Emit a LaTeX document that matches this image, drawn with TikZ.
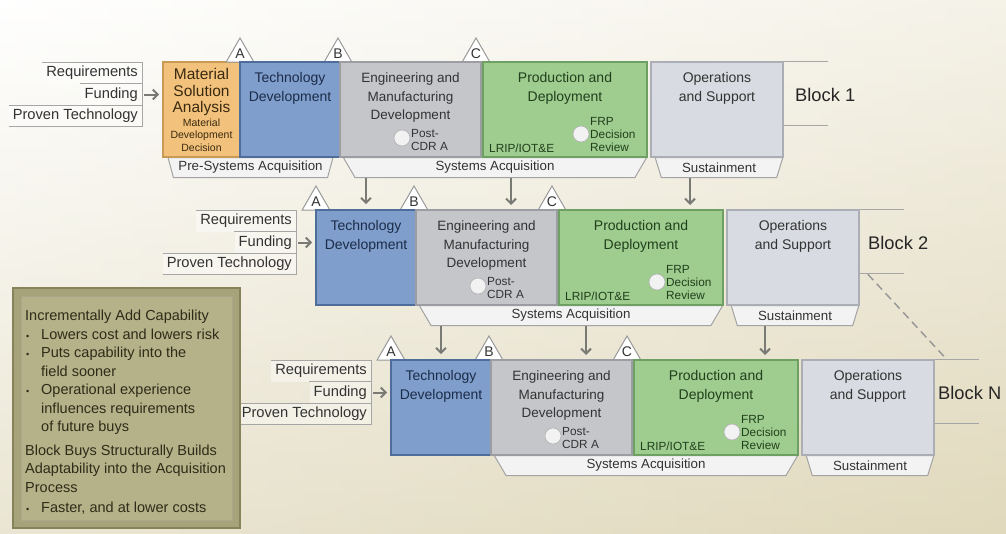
\documentclass[tikz,border=0pt]{standalone}
\usepackage{fontspec}
\setmainfont{Liberation Sans}
\usepackage{tikz}
\usetikzlibrary{shapes.geometric}
\usetikzlibrary{arrows.meta}
\usetikzlibrary{calc}

\definecolor{msafill}{HTML}{F2C27C}
\definecolor{msaline}{HTML}{C99A55}
\definecolor{msatext}{HTML}{3A2A10}
\definecolor{tdfill}{HTML}{7F9ECC}
\definecolor{tdline}{HTML}{4F6D9A}
\definecolor{tdtext}{HTML}{1C2C48}
\definecolor{emdfill}{HTML}{C5C6CA}
\definecolor{emdline}{HTML}{9C9DA2}
\definecolor{pdfill}{HTML}{9ECD8F}
\definecolor{pdline}{HTML}{6FA063}
\definecolor{pdtext}{HTML}{223F1C}
\definecolor{osfill}{HTML}{D8DBE1}
\definecolor{osline}{HTML}{ABAEB4}
\definecolor{tabfill}{HTML}{F3F3F3}
\definecolor{tabline}{HTML}{A3A3A3}
\definecolor{notefill}{HTML}{B5B189}
\definecolor{noteband}{HTML}{A6A27A}
\definecolor{noteline}{HTML}{86825A}
\definecolor{notetext}{HTML}{2F2B18}
\definecolor{flowcol}{HTML}{7A7A74}
\definecolor{txtcol}{HTML}{333333}
\definecolor{bgright}{HTML}{E6DFC6}
\definecolor{bgbottom}{HTML}{DDD5B6}

\newcommand{\notebul}{\makebox[16pt][l]{\hspace{1pt}{\small\textbullet}}}
\newcommand{\noteind}{\hspace*{16pt}}

\tikzset{
  phase/.style={line width=1.6pt, inner sep=0pt, minimum height=95pt},
  ttl/.style={anchor=north, align=center, yshift=-8pt, text=txtcol,
    font=\fontsize{14}{19}\selectfont},
  mstone/.style={regular polygon, regular polygon sides=3, minimum size=32pt,
    inner sep=0pt, draw=black!40, fill=white, line width=1pt, text=txtcol,
    font=\fontsize{14}{16}\selectfont},
  tab/.style={trapezium, trapezium angle=68, shape border rotate=180,
    trapezium stretches=true, minimum height=20pt, inner sep=0pt,
    draw=tabline, fill=tabfill, line width=1pt, text=txtcol,
    font=\fontsize{13.3}{15}\selectfont},
  reviewdot/.style={circle, minimum size=16pt, inner sep=0pt, fill=white!95!black,
    draw=black!30, line width=0.6pt},
  smalltxt/.style={align=left, inner sep=0pt, text=txtcol,
    font=\fontsize{11.8}{13}\selectfont},
  inlbl/.style={anchor=east, minimum height=21.5pt, inner xsep=4pt,
    inner ysep=0pt, fill=white, fill opacity=0.4, text opacity=1,
    text=txtcol, font=\fontsize{14.7}{17}\selectfont},
  lblline/.style={draw=black!35, line width=1pt},
  blkline/.style={draw=black!35, line width=1pt},
  blk/.style={text=black!85, font=\fontsize{18.3}{20}\selectfont},
  flow/.style={draw=flowcol, line width=2pt, -{Straight Barb[length=5pt,width=10pt]}},
  notetxt/.style={align=left, text=notetext, inner sep=0pt,
    font=\fontsize{14.5}{18.5}\selectfont}
}

\begin{document}
\begin{tikzpicture}[x=1pt, y=-1pt]
  \useasboundingbox (0,0) rectangle (1006,533);
  \shade[left color=white, right color=bgright] (0,0) rectangle (1006,533);
  \shade[top color=white, bottom color=bgbottom, opacity=0.6] (0,0) rectangle (1006,533);

  % block 1 only
  \node[tab, minimum width=165pt] (ps1) at (250.5,167.5) {Pre-Systems Acquisition};
  \node[phase, fill=msafill, draw=msaline, minimum width=77pt,
    label={[ttl, yshift=4pt, text=msatext, font=\fontsize{15.5}{16.5}\selectfont]north:{Material\\Solution\\Analysis}},
    label={[anchor=south, align=center, yshift=3pt, text=msatext, font=\fontsize{10.5}{12.5}\selectfont]south:{Material\\Development\\Decision}}]
    (msa1) at (201.5,109.5) {};

  \foreach \r/\dx/\dy/\blk/\f/\lx/\bx in {1/0/0/1/msa/142/795, 2/76/148/2/td/220/792, 3/151/298/N/td/220/787}{
  \begin{scope}[shift={(\dx,\dy)}]
    \node[mstone] (ma\r) at (240,54) {A};
    \node[mstone] (mb\r) at (338,54) {B};
    \node[mstone] (mc\r) at (476,54) {C};
    \node[tab, minimum width=304pt] (sa\r) at (495,167.5) {Systems Acquisition};
    \node[tab, minimum width=128pt] (su\r) at (719,167.5) {Sustainment};

    \node[phase, fill=tdfill, draw=tdline, minimum width=100pt,
      label={[ttl, text=tdtext]north:{Technology\\Development}}] (td\r) at (290,109.5) {};
    \node[phase, fill=emdfill, draw=emdline, minimum width=141pt,
      label={[ttl, font=\fontsize{13.5}{18.5}\selectfont]north:{Engineering and\\Manufacturing\\Development}}] (emd\r) at (410.5,109.5) {};
    \node[phase, fill=pdfill, draw=pdline, minimum width=164pt,
      label={[ttl, text=pdtext]north:{Production and\\Deployment}}] (pd\r) at (565,109.5) {};
    \node[phase, fill=osfill, draw=osline, minimum width=132pt,
      label={[ttl]north:{Operations\\and Support}}] (os\r) at (717,109.5) {};

    \node[reviewdot] (pc\r) at (402,138) {};
    \node[smalltxt, anchor=west] (pct\r) at (411,140) {Post-\\CDR A};
    \node[smalltxt, anchor=west, text=pdtext] (lrip\r) at (489,148) {LRIP/IOT\&E};
    \node[reviewdot] (frp\r) at (581,134) {};
    \node[smalltxt, anchor=west, text=pdtext] (frpt\r) at (590,134) {FRP\\Decision\\Review};

    \draw[blkline] (os\r.north east) -- ++(44,0);
    \draw[blkline] ($(os\r.north east)+(0,64)$) -- ++(44,0);
    \node[blk, anchor=west, inner sep=0pt] (blk\r) at (\bx,95) {Block \blk};
    \coordinate (bb\r) at ($(os\r.north east)+(8,65)$);
    \coordinate (bt\r) at ($(os\r.north east)+(9,-3)$);
    \coordinate (ea\r) at (435,62);
    \coordinate (pa\r) at (614,62);

    \node[inlbl] (req\r) at (\lx,73) {Requirements};
    \node[inlbl] (fund\r) at (\lx,94.5) {Funding};
    \node[inlbl] (prov\r) at (\lx,116) {Proven Technology};
    \draw[lblline] (req\r.north west) -- (req\r.north east) -- (prov\r.south east);
    \draw[lblline] (fund\r.north west) -- (fund\r.north east);
    \draw[lblline] (prov\r.north west) -- (prov\r.north east);
    \draw[lblline] (prov\r.south west) -- (prov\r.south east);
    \draw[flow, shorten <=2pt, shorten >=3pt] (fund\r.east) -- (fund\r.east -| \f\r.west);
  \end{scope}
  }

  % hand-over arrows between blocks
  \draw[flow, shorten >=5pt] (sa1.south -| td2.north) -- (td2.north);
  \draw[flow, shorten >=5pt] (sa1.south -| ea2) -- (ea2);
  \draw[flow, shorten >=5pt] (su1.south -| pa2) -- (pa2);
  \draw[flow, shorten >=5pt] (sa2.south -| td3.north) -- (td3.north);
  \draw[flow, shorten >=5pt] (sa2.south -| ea3) -- (ea3);
  \draw[flow, shorten >=5pt] (su2.south -| pa3) -- (pa3);
  \draw[draw=black!40, line width=1.5pt, dash pattern=on 8pt off 5pt] (bb2) -- (bt3);

  % benefits box
  \node[draw=noteline, fill=noteband, line width=2pt, minimum width=227pt,
    minimum height=240pt, inner sep=0pt] (note) at (126.5,408) {};
  \draw[draw=noteline!70, fill=notefill, line width=1pt]
    ([shift={(9,9)}]note.north west) rectangle ([shift={(-9,-9)}]note.south east);
  \node[notetxt, anchor=north west] (notetext) at ([shift={(13,23)}]note.north west) {%
      Incrementally Add Capability\\
      \notebul Lowers cost and lowers risk\\
      \notebul Puts capability into the\\
      \noteind field sooner\\
      \notebul Operational experience\\
      \noteind influences requirements\\
      \noteind of future buys\\[5pt]
      Block Buys Structurally Builds\\
      Adaptability into the Acquisition\\
      Process\\[1.5pt]
      \notebul Faster, and at lower costs};
\end{tikzpicture}
\end{document}
